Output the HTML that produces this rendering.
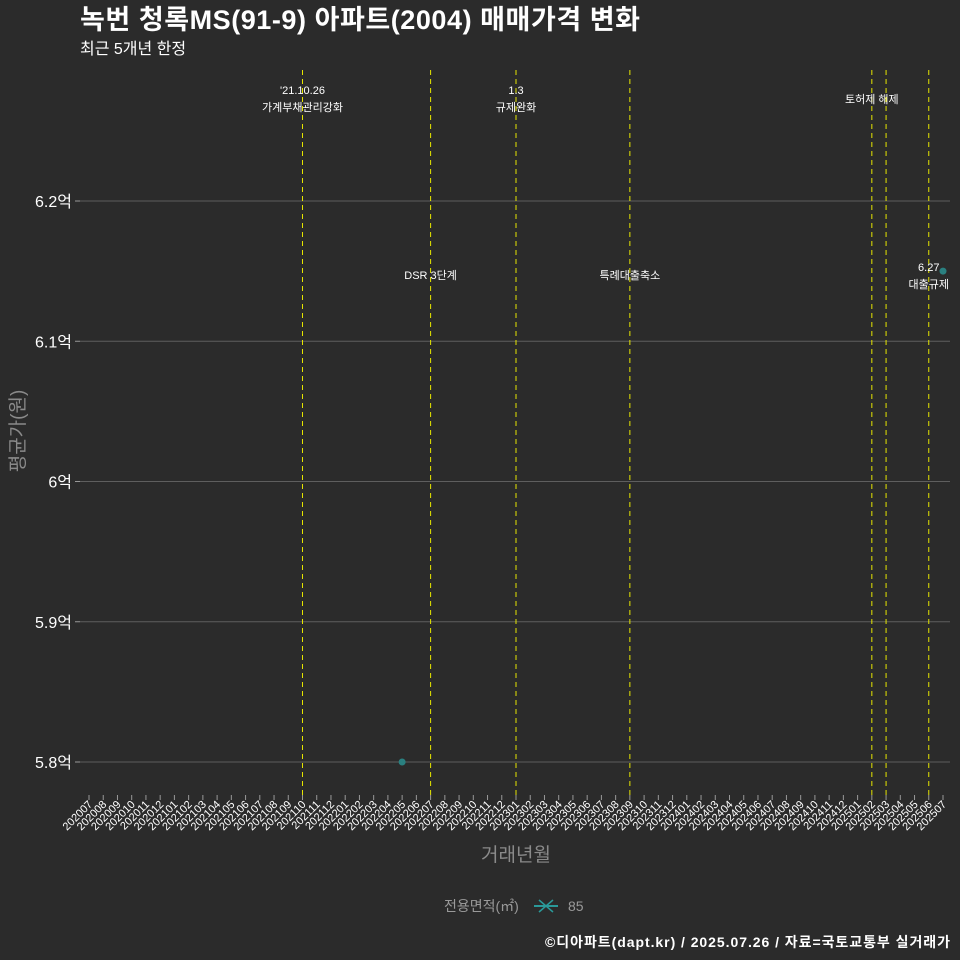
<!DOCTYPE html>
<html><head><meta charset="utf-8"><style>
body{margin:0;background:#2b2b2b;}
svg{display:block;font-family:"Liberation Sans","Noto Sans CJK KR",sans-serif;}
</style></head><body>
<svg id="chart" width="960" height="960" viewBox="0 0 960 960">
<rect width="960" height="960" fill="#2b2b2b"/>
<text x="80" y="29" fill="#ffffff" font-size="27" font-weight="bold" textLength="560">녹번 청록MS(91-9) 아파트(2004) 매매가격 변화</text>
<text x="80" y="54" fill="#ffffff" font-size="16">최근 5개년 한정</text>
<g id="grid"></g>
<g id="vlines"></g>
<g id="yaxis"></g>
<g id="xaxis"></g>
<g id="points"></g>
<text transform="translate(24,431) rotate(-90)" text-anchor="middle" fill="#8a8a8a" font-size="19">평균가(원)</text>
<text x="516" y="861" text-anchor="middle" fill="#8a8a8a" font-size="19">거래년월</text>
<g>
<text x="444" y="911" fill="#9a9a9a" font-size="14">전용면적(㎡)</text>
<line x1="534" y1="906" x2="558" y2="906" stroke="#2a9a9a" stroke-width="2"/>
<path d="M539 900 L553 912 M553 900 L539 912" stroke="#2a9a9a" stroke-width="1.5"/>
<text x="568" y="911" fill="#9a9a9a" font-size="14">85</text>
</g>
<text x="950" y="947" text-anchor="end" fill="#ffffff" font-size="14" font-weight="bold" textLength="405">©디아파트(dapt.kr) / 2025.07.26 / 자료=국토교통부 실거래가</text>
</svg>
<script>
const months=[];for(let y=2020;y<=2025;y++)for(let m=1;m<=12;m++){const k=y*100+m;if(k>=202007&&k<=202507)months.push(String(k));}
const yTicks=[5.8,5.9,6.0,6.1,6.2];
const yTickLabels=["5.8억","5.9억","6억","6.1억","6.2억"];
const pointMonths=["202205","202507"];
const pointValues=[5.8,6.15];
const eventMonths=["202110","202207","202301","202309","202502","202503","202506"];
const eventLabels=[["'21.10.26","가계부채관리강화"],["DSR 3단계"],["1.3","규제완화"],["특례대출축소"],["토허제 해제"],[],["6.27","대출규제"]];
const eventLabelY=[94,279,94,279,103,0,271];
const NS="http://www.w3.org/2000/svg";
const x=i=>89+i*(943-89)/60;
const y=v=>762-(v-5.8)*1402.5;
function el(t,a,p){const e=document.createElementNS(NS,t);for(const k in a)e.setAttribute(k,a[k]);document.getElementById(p).appendChild(e);return e;}
yTicks.forEach((v,i)=>{
 const g=el('line',{x1:80,x2:950,y1:y(v),y2:y(v),stroke:'#5e5e5e','stroke-width':1},'grid');
 
 
 const tk=el('line',{x1:75,x2:80,y1:y(v),y2:y(v),stroke:'#999'},'yaxis');
 
 
 const t=el('text',{x:72,y:y(v)+6,'text-anchor':'end',fill:'#ffffff','font-size':16},'yaxis');
 t.textContent=yTickLabels[i];
 
 
});
months.forEach((m,i)=>{
 const tk=el('line',{x1:x(i),x2:x(i),y1:795,y2:800,stroke:'#999'},'xaxis');
 
 
 const t=el('text',{x:x(i)+4,y:805,'text-anchor':'end',fill:'#ffffff','font-size':11,transform:`rotate(-45 ${x(i)+4} 805)`},'xaxis');
 t.textContent=m;
 
 
});
eventMonths.forEach((m,i)=>{
 const xi=x(months.indexOf(m));
 const l=el('line',{x1:xi,x2:xi,y1:70,y2:798,stroke:'#e6e600','stroke-width':1,'stroke-dasharray':'5,4'},'vlines');
 
 
 eventLabels[i].forEach((s,j)=>{
  const t=el('text',{x:xi,y:eventLabelY[i]+j*17,'text-anchor':'middle',fill:'#ffffff','font-size':11},'vlines');
  t.textContent=s;
  
  
 });
});
pointMonths.forEach((m,i)=>{
 const c=el('circle',{cx:x(months.indexOf(m)),cy:y(pointValues[i]),r:3.5,fill:'#2a8080'},'points');
 
 
});
</script>
</body></html>
